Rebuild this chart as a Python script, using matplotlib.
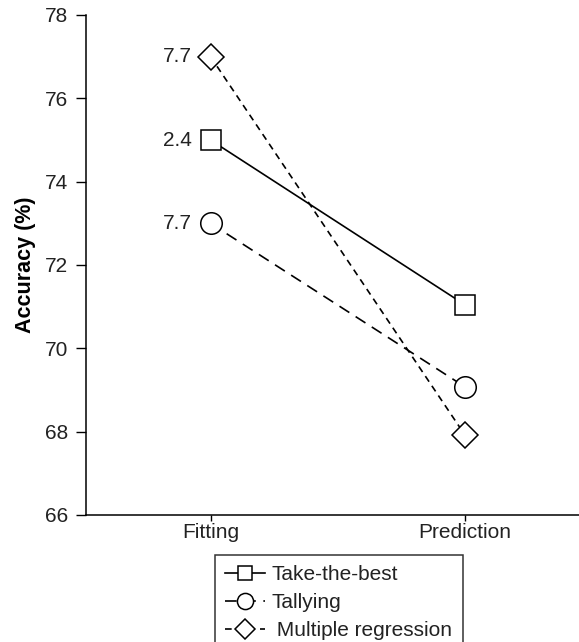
import numpy as np
import matplotlib.pyplot as plt

plt.rcParams['font.family'] = ['Liberation Sans', 'DejaVu Sans']

conditions = ['Fitting', 'Prediction']
ttb = [75.0, 71.05]
tally = [73.0, 69.08]
mreg = [77.0, 67.93]
fit_labels = ['2.4', '7.7', '7.7']   # ttb, tally, multiple regression

x = np.arange(len(conditions))

fig = plt.figure(figsize=(5.79, 6.42), dpi=100)
ax = fig.add_axes([86/579, 127/642, 1 - 86/579, (515-15)/642])

mk = dict(markerfacecolor='white', markeredgecolor='black', markeredgewidth=1.1, color='black', lw=1.2)
l1, = ax.plot(x, ttb, marker='s', markersize=14, linestyle='-', label='Take-the-best', **mk)
l2, = ax.plot(x, tally, marker='o', markersize=15.5, linestyle=(0, (7, 4.5)), label='Tallying', **mk)
l3, = ax.plot(x, mreg, marker='D', markersize=13, linestyle=(0, (4, 3)), label=' Multiple regression', **mk)

for val, lab in zip([ttb[0], tally[0], mreg[0]], fit_labels):
    ax.annotate(lab, (x[0], val), xytext=(-13.5, 0), textcoords='offset points',
                ha='right', va='center', fontsize=15, color='#222222')

ax.set_xlim(-0.49, 1.45)
ax.set_ylim(66, 78)
ax.set_yticks(np.arange(66, 79, 2))
ax.set_xticks(x)
ax.set_xticklabels(conditions)
ax.set_ylabel('Accuracy (%)', fontsize=15.5, fontweight='bold', labelpad=6)
ax.tick_params(axis='y', direction='out', length=7, width=1, labelsize=15, pad=6, labelcolor='#222222')
ax.tick_params(axis='x', direction='out', length=4, width=1, labelsize=15, pad=2, labelcolor='#222222')
for s in ['top', 'right']:
    ax.spines[s].set_visible(False)
for s in ['left', 'bottom']:
    ax.spines[s].set_linewidth(1.1)

leg = fig.legend(handles=[l1, l2, l3], loc='upper left', bbox_to_anchor=(215/579, 87/642),
                 bbox_transform=fig.transFigure, fontsize=15, frameon=True, fancybox=False,
                 edgecolor='black', handlelength=1.9, handletextpad=0.3, markerscale=0.75,
                 borderpad=0.5, labelspacing=0.42, borderaxespad=0)
leg.get_frame().set_linewidth(1.1)
for t in leg.get_texts():
    t.set_color('#222222')

fig.savefig('out.png', dpi=100)
